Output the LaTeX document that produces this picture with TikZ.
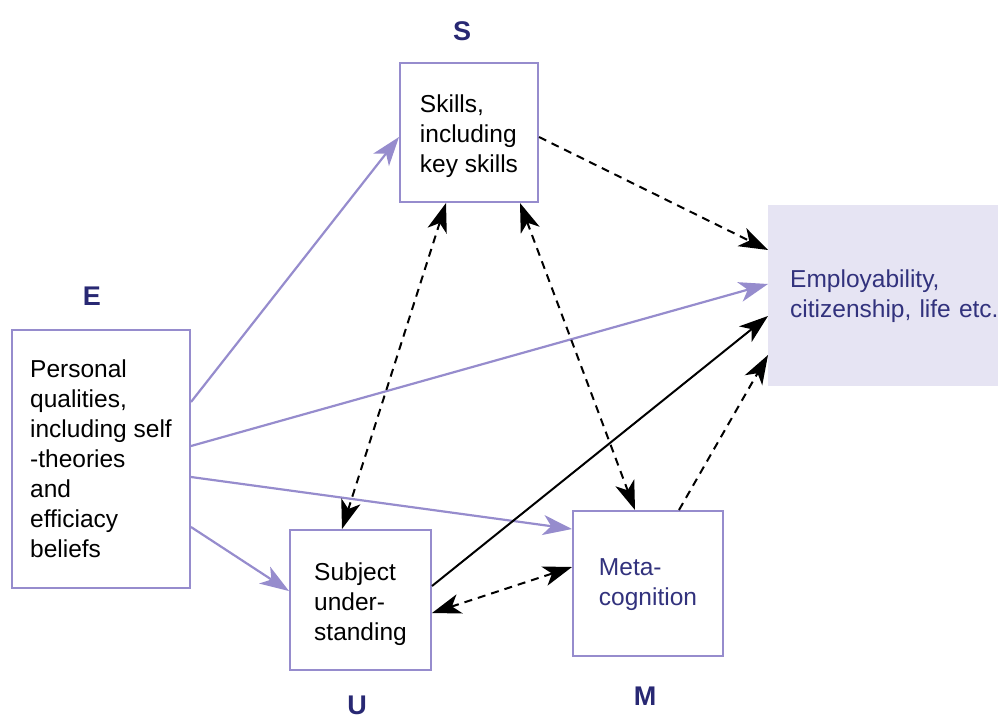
\documentclass[tikz,border=0pt]{standalone}
\usepackage{fontspec}
\setmainfont{Liberation Sans}
\usetikzlibrary{arrows.meta,calc}
\definecolor{boxline}{RGB}{150,140,205}
\definecolor{navy}{RGB}{40,40,115}
\definecolor{textblue}{RGB}{50,50,125}
\definecolor{empfill}{RGB}{230,228,243}
\begin{document}
\begin{tikzpicture}[x=1pt,y=-1pt,
  box/.style={draw=boxline, line width=2pt, fill=white, align=left, inner sep=0pt,
    font=\fontsize{24.5}{30}\selectfont},
  empbox/.style={fill=empfill, align=left, inner ysep=0pt, inner xsep=22pt,
    text width=215pt, text=textblue, font=\fontsize{24.5}{30}\selectfont},
  lbl/.style={font=\fontsize{27}{30}\selectfont\bfseries, text=navy, inner sep=0pt},
  ptip/.tip={Stealth[length=29pt,width=20pt,inset=8pt]},
  btip/.tip={Stealth[length=29pt,width=20pt,inset=8pt]},
  parrow/.style={draw=boxline, line width=2.2pt, -ptip},
  barrow/.style={draw=black, line width=2pt, -btip},
  dasharrow/.style={draw=black, line width=2pt, dash pattern=on 8pt off 6pt, -btip},
  dashboth/.style={draw=black, line width=2pt, dash pattern=on 8pt off 6pt, btip-btip}
]
\useasboundingbox (0,0) rectangle (998,718);

% boxes
\node[box, minimum width=178pt, minimum height=258pt] (E) at (101,459)
  {Personal\\qualities,\\including self\\-theories\\and\\efficiacy\\beliefs};
\node[box, minimum width=138pt, minimum height=139pt] (S) at (469,132.5)
  {\rule{0pt}{26pt}Skills,\\including\\key skills};
\node[box, minimum width=141pt, minimum height=140pt] (U) at (360.5,600)
  {\rule{0pt}{26pt}Subject\\under-\\standing};
\node[box, minimum width=150pt, minimum height=145pt, text=textblue] (M) at (648,583.5)
  {\rule{0pt}{20pt}Meta-\\cognition};
\node[empbox, minimum height=181pt, anchor=north west] (P) at (768,205)
  {Employability,\\citizenship, life etc.};

% letter labels
\node[lbl] (Sl) at (462,31) {S};
\node[lbl] (El) at (92,296) {E};
\node[lbl] (Ul) at (357,705) {U};
\node[lbl] (Ml) at (645,696) {M};

% purple arrows from E
\draw[parrow] ($(E.north east)+(0,73)$) -- ($(S.north west)+(0,75)$);
\draw[parrow] ($(E.north east)+(0,117)$) -- ($(P.north west)+(0,79)$);
\draw[parrow] ($(E.north east)+(0,148)$) -- ($(M.north west)+(0,19)$);
\draw[parrow] ($(E.north east)+(0,198)$) -- ($(U.north west)+(0,62)$);

% black arrows
\draw[barrow] ($(U.north east)+(0,57)$) -- ($(P.north west)+(0,111)$);
\draw[dasharrow] ($(S.north east)+(0,75)$) -- ($(P.north west)+(0,45)$);
\draw[dasharrow] ($(M.north west)+(107,0)$) -- ($(P.north west)+(0,150)$);
\draw[dashboth] ($(S.south west)+(47,0)$) -- ($(U.north west)+(53,0)$);
\draw[dashboth] ($(S.south west)+(121,0)$) -- ($(M.north west)+(63,0)$);
\draw[dashboth] ($(U.north east)+(0,84)$) -- ($(M.north west)+(0,57)$);
\end{tikzpicture}
\end{document}
